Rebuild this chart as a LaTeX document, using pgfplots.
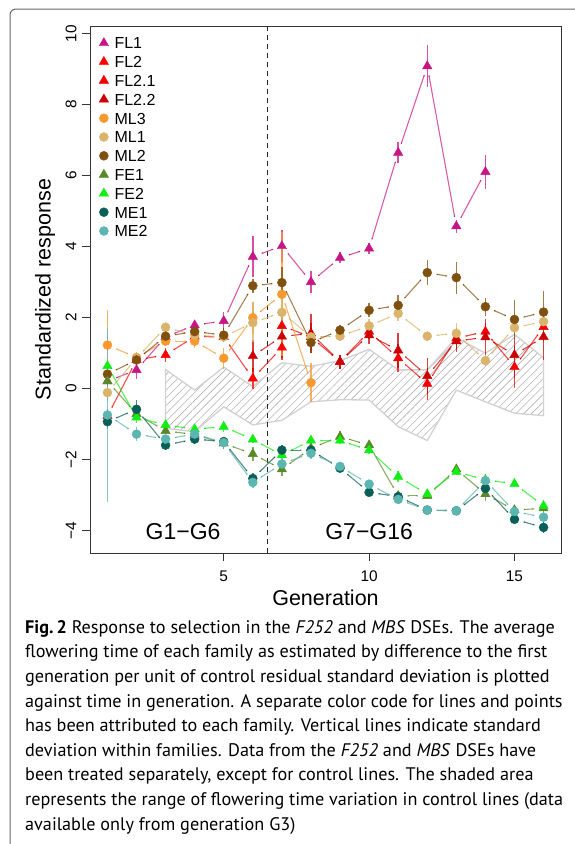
\documentclass[border=0pt]{standalone}
\usepackage{fontspec}
\setmainfont{Liberation Sans}
\newfontfamily\capfont{PT Sans}
\usepackage{pgfplots}
\usepackage{pgfplotstable}
\pgfplotsset{compat=1.18}
\usetikzlibrary{patterns.meta, arrows.meta}

\definecolor{cFLone}{HTML}{C71585}
\definecolor{cFLtwo}{HTML}{FF0000}
\definecolor{cFLtwoone}{HTML}{F40000}
\definecolor{cFLtwotwo}{HTML}{CC0000}
\definecolor{cMLthree}{HTML}{F8982E}
\definecolor{cMLone}{HTML}{D9B46A}
\definecolor{cMLtwo}{HTML}{80500F}
\definecolor{cFEone}{HTML}{5A8A28}
\definecolor{cFEtwo}{HTML}{11EE11}
\definecolor{cMEone}{HTML}{0A5F58}
\definecolor{cMEtwo}{HTML}{5BB5B0}
\definecolor{boxgrey}{HTML}{666666}

% x = generation, y = standardized response, e = standard deviation
\pgfplotstableread{
x y e
1 0.20 0.15
2 0.52 0.25
3 1.45 0.15
4 1.78 0.12
5 1.90 0.25
6 3.71 0.58
7 4.01 0.45
8 3.00 0.30
9 3.68 0.15
10 3.94 0.15
11 6.64 0.30
12 9.08 0.60
13 4.57 0.18
14 6.10 0.48
}\FLone
\pgfplotstableread{
x y e
1 -0.78 0.20
2 0.80 0.20
3 0.94 0.20
4 1.46 0.15
5 1.45 0.15
6 0.28 0.30
7 1.15 0.35
}\FLtwo
\pgfplotstableread{
x y e
7 1.76 0.35
8 1.45 0.40
9 0.75 0.20
10 1.60 0.20
11 0.85 0.40
12 0.13 0.45
13 1.41 0.30
14 1.60 0.25
15 0.60 0.60
16 1.73 0.40
}\FLtwoone
\pgfplotstableread{
x y e
6 0.91 0.45
7 1.46 0.60
8 1.55 0.55
9 0.75 0.20
10 1.50 0.25
11 1.07 0.50
12 0.35 0.50
13 1.33 0.30
14 1.44 0.50
15 0.94 0.65
16 1.45 0.65
}\FLtwotwo
\pgfplotstableread{
x y e
1 1.22 1.00
2 0.87 0.15
3 1.33 0.15
4 1.33 0.20
5 0.85 0.30
6 1.99 0.45
7 2.65 1.75
8 0.16 0.55
}\MLthree
\pgfplotstableread{
x y e
1 -0.12 0.20
2 0.85 0.15
3 1.72 0.15
4 1.50 0.15
5 1.45 0.15
6 1.85 0.55
7 2.14 0.50
8 1.45 0.20
9 1.47 0.15
10 1.76 0.20
11 2.11 0.20
12 1.47 0.15
13 1.55 0.30
14 0.78 0.15
15 1.71 0.30
16 1.88 0.30
}\MLone
\pgfplotstableread{
x y e
1 0.40 0.30
2 0.80 0.15
3 1.47 0.15
4 1.60 0.15
5 1.50 0.20
6 2.89 0.20
7 2.98 0.45
8 1.29 0.30
9 1.64 0.15
10 2.20 0.20
11 2.34 0.30
12 3.26 0.35
13 3.12 0.45
14 2.30 0.25
15 1.94 0.55
16 2.15 0.60
}\MLtwo
\pgfplotstableread{
x y e
1 0.20 0.15
2 -0.72 0.15
3 -1.20 0.10
4 -1.30 0.10
5 -1.55 0.15
6 -1.85 0.20
7 -2.28 0.20
8 -1.69 0.15
9 -1.36 0.15
10 -1.60 0.10
11 -3.03 0.15
12 -3.03 0.10
13 -2.28 0.15
14 -2.98 0.20
15 -3.43 0.15
16 -3.38 0.15
}\FEone
\pgfplotstableread{
x y e
1 0.63 0.15
2 -0.82 0.15
3 -1.03 0.10
4 -1.15 0.10
5 -1.08 0.15
6 -1.44 0.10
7 -1.88 0.15
8 -1.47 0.10
9 -1.47 0.10
10 -1.74 0.10
11 -2.49 0.15
12 -2.98 0.10
13 -2.35 0.10
14 -2.58 0.15
15 -2.69 0.10
16 -3.31 0.15
}\FEtwo
\pgfplotstableread{
x y e
1 -0.94 0.20
2 -0.59 0.25
3 -1.60 0.15
4 -1.43 0.15
5 -1.50 0.10
6 -2.54 0.15
7 -1.74 0.15
8 -1.74 0.15
9 -2.25 0.10
10 -2.93 0.10
11 -3.05 0.10
12 -3.43 0.10
13 -3.45 0.10
14 -2.82 0.15
15 -3.69 0.10
16 -3.92 0.15
}\MEone
\pgfplotstableread{
x y e
1 -0.75 2.45
2 -1.29 0.20
3 -1.43 0.10
4 -1.29 0.10
5 -1.53 0.10
6 -2.65 0.15
7 -2.13 0.15
8 -1.83 0.15
9 -2.20 0.10
10 -2.70 0.10
11 -3.13 0.10
12 -3.43 0.10
13 -3.45 0.10
14 -2.60 0.20
15 -3.47 0.15
16 -3.63 0.15
}\MEtwo
% range of the control lines: upper edge G3 to G16, then lower edge back
\pgfplotstableread{
x y
3 0.53
4 -0.05
5 0.60
6 0.05
7 0.72
8 0.62
9 0.78
10 1.10
11 0.52
12 0.52
13 1.43
14 0.99
15 1.52
16 0.86
16 -0.77
15 -0.70
14 -0.38
13 -0.05
12 -1.47
11 -1.08
10 -0.33
9 -0.32
8 -0.38
7 -0.90
6 -1.03
5 -0.52
4 -1.22
3 -1.13
}\ctrlrange

\pgfplotsset{
  mtri/.style={mark=triangle*, mark size=5.4pt},
  mcirc/.style={mark=*, mark size=4.5pt},
}

% #1 table, #2 colour, #3 mark style, #4 generations where a segment starts, #5 name
% each segment is a separate plot of two generations, cut short at both ends
\newcommand\family[5]{%
  \pgfplotsinvokeforeach{#4}{%
    \addplot[forget plot, draw=#2, draw opacity=0.7, line width=1.1pt,
      {Butt Cap[]}-{Butt Cap[]},
      shorten <=9.5pt, shorten >=9.5pt, unbounded coords=discard,
      x filter/.expression={abs(x-##1-0.5)<0.6 ? x : nan}]
      table[x=x, y=y] {#1};}
  \addplot[color=#2, only marks, #3, mark options={solid, fill=#2, draw=none},
    error bars/.cd, y dir=both, y explicit, error mark=none,
    error bar style={line width=1.4pt, draw opacity=0.75, color=#2}]
    table[x=x, y=y, y error=e] {#1};
  \addlegendentry{#5}}

\begin{document}
\begin{tikzpicture}
\path[use as bounding box] (0pt,0pt) rectangle (574pt,-844pt);
\draw[boxgrey, line width=1pt, rounded corners=6pt] (10pt,-850pt) -- (10pt,-9pt) -- (580pt,-9pt);

\begin{axis}[
  at={(90pt,-553pt)}, anchor=south west,
  scale only axis, width=471pt, height=527pt,
  xmin=0.4, xmax=16.6, ymin=-4.64, ymax=10.21,
  xtick={5,10,15},
  ytick={-4,-2,0,2,4,6,8,10},
  yticklabels={−4,−2,0,2,4,6,8,10},
  tick pos=left, tick align=outside, major tick length=8pt,
  axis line style={black!80, line width=0.9pt},
  tick style={black!80, line width=0.9pt},
  /pgf/number format/assume math mode=true,
  tick label style={font=\fontsize{15.4}{16}\selectfont},
  xticklabel style={yshift=-6pt},
  yticklabel style={rotate=90, anchor=south, yshift=2pt},
  xlabel={Generation},
  ylabel={Standardized response},
  xlabel style={font=\fontsize{21.5}{24}\selectfont, at={(axis description cs:0.5,-0.0854)}, anchor=center},
  ylabel style={font=\fontsize{21.5}{24}\selectfont, at={(axis description cs:-0.0955,0.5)}, anchor=center},
  clip=false,
  legend style={draw=none, fill=none, at={(axis description cs:0,1)}, anchor=north west,
    xshift=6pt, yshift=-8pt, font=\fontsize{16}{17}\selectfont, column sep=5pt,
    nodes={inner sep=1pt, text height=11.6pt, text depth=0pt}, row sep=5.2pt},
  legend cell align=left,
]
\addplot[draw=black!18, line width=1.3pt, pattern={Lines[angle=45, distance=5.5pt, line width=0.6pt]},
  pattern color=black!30, forget plot] table[x=x, y=y] {\ctrlrange} -- cycle;

\addplot[black!85, line width=1.6pt, dash pattern=on 5pt off 4pt, forget plot]
  coordinates {(6.5,-4.64) (6.5,10.21)};

\family{\FLone}{cFLone}{mtri}{1,...,13}{FL1}
\family{\FLtwo}{cFLtwo}{mtri}{1,...,6}{FL2}
\family{\FLtwoone}{cFLtwoone}{mtri}{7,...,15}{FL2.1}
\family{\FLtwotwo}{cFLtwotwo}{mtri}{6,...,15}{FL2.2}
\family{\MLthree}{cMLthree}{mcirc}{1,...,7}{ML3}
\family{\MLone}{cMLone}{mcirc}{1,...,15}{ML1}
\family{\MLtwo}{cMLtwo}{mcirc}{1,...,15}{ML2}
\family{\FEone}{cFEone}{mtri}{1,...,15}{FE1}
\family{\FEtwo}{cFEtwo}{mtri}{1,...,15}{FE2}
\family{\MEone}{cMEone}{mcirc}{1,...,15}{ME1}
\family{\MEtwo}{cMEtwo}{mcirc}{1,...,15}{ME2}

\node[font=\fontsize{23}{26}\selectfont] at (axis cs:3.6,-4.05) {G1−G6};
\node[font=\fontsize{23}{26}\selectfont] at (axis cs:10.0,-4.05) {G7−G16};
\end{axis}

\node[anchor=north west, align=left, inner sep=0pt,
  font=\capfont\fontsize{18.2}{24.6}\selectfont] at (25pt,-620pt) {%
\textbf{Fig.\,2} Response to selection in the \textit{F252} and \textit{MBS} DSEs. The average\\
flowering time of each family as estimated by difference to the first\\
generation per unit of control residual standard deviation is plotted\\
against time in generation. A separate color code for lines and points\\
has been attributed to each family. Vertical lines indicate standard\\
deviation within families. Data from the \textit{F252} and \textit{MBS} DSEs have\\
been treated separately, except for control lines. The shaded area\\
represents the range of flowering time variation in control lines (data\\
available only from generation G3)};
\end{tikzpicture}
\end{document}
